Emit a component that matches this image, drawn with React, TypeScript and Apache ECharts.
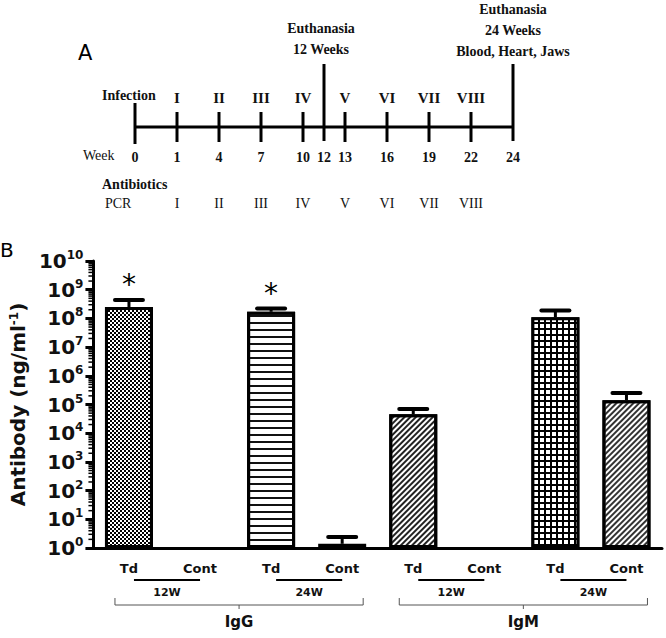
import React, { useEffect, useRef } from "react";
import * as echarts from "echarts";

// ---------- Panel B data ----------
const categoryLabels = ["Td", "Cont", "Td", "Cont", "Td", "Cont", "Td", "Cont"];
const antibodyMean: (number | null)[] = [2.5e8, null, 1.7e8, 1.4, 4.6e4, null, 1.1e8, 1.4e5];
const antibodyUpper: (number | null)[] = [4.4e8, null, 2.2e8, 2.4, 7.0e4, null, 1.9e8, 2.5e5];
const significance = ["*", "", "*", "", "", "", "", ""];
const timepointLabels = ["12W", "24W", "12W", "24W"];
const timepointSpans = [[0, 1], [2, 3], [4, 5], [6, 7]];
const isotypeLabels = ["IgG", "IgM"];
const isotypeSpans = [[0, 3], [4, 7]];
const yDecades = [0, 1, 2, 3, 4, 5, 6, 7, 8, 9];
const minorMultipliers = [2, 3, 4, 5, 6, 7, 8, 9];

// ---------- Panel A data ----------
const weeks = [0, 1, 4, 7, 10, 12, 13, 16, 19, 22, 24];
const timelinePosition = [0, 1, 2, 3, 4, 4.5, 5, 6, 7, 8, 9];
const infectionRounds = ["", "I", "II", "III", "IV", "", "V", "VI", "VII", "VIII", ""];
const pcrRounds = ["", "I", "II", "III", "IV", "", "V", "VI", "VII", "VIII", ""];
const euthanasiaWeeks = [12, 24];
const euthanasiaNotes = [
  ["Euthanasia", "12 Weeks"],
  ["Euthanasia", "24 Weeks", "Blood, Heart, Jaws"],
];

const SANS = "DejaVu Sans";
const SERIF = "Liberation Serif";

const barStyles: any[] = [
  { color: "#fff", decal: { symbol: "rect", symbolSize: 1, color: "#000", backgroundColor: "#fff", dashArrayX: [[2, 2], [0, 2, 2, 0]], dashArrayY: [2, 0] } },
  {},
  { color: "#fff", decal: { symbol: "rect", symbolSize: 1, color: "#111", backgroundColor: "#fff", dashArrayX: [1, 0], dashArrayY: [2, 4.5] } },
  { color: "#000" },
  { color: "#fff", decal: { symbol: "rect", symbolSize: 1, color: "#222", backgroundColor: "#fff", dashArrayX: [1, 0], dashArrayY: [1.6, 1.8], rotation: -Math.PI / 4 } },
  {},
  { color: "#000", decal: { symbol: "rect", symbolSize: 1, color: "#fff", backgroundColor: "#000", dashArrayX: [4, 2], dashArrayY: [4, 2] } },
  { color: "#fff", decal: { symbol: "rect", symbolSize: 1, color: "#333", backgroundColor: "#bbb", dashArrayX: [1, 0], dashArrayY: [1.5, 1.5], rotation: -Math.PI / 4 } },
];

export default function App() {
  const ref = useRef<HTMLDivElement>(null);
  useEffect(() => {
    if (!ref.current) return;
    const chart = echarts.init(ref.current, null, { renderer: "svg" });

    const minorTickValues: number[][] = [];
    yDecades.forEach((d) => minorMultipliers.forEach((m) => minorTickValues.push([0, m * Math.pow(10, d)])));

    const errorData: any[] = [];
    antibodyMean.forEach((m, i) => {
      if (m != null && antibodyUpper[i] != null) errorData.push([i, m, antibodyUpper[i]]);
    });

    const option: any = {
      animation: false,
      backgroundColor: "#fff",
      grid: [
        { left: 85, right: 4, top: 261, bottom: 90 },
        { left: 135, right: 153, top: 107, height: 40 },
      ],
      xAxis: [
        {
          type: "category",
          gridIndex: 0,
          data: categoryLabels,
          boundaryGap: true,
          axisLine: { lineStyle: { color: "#000", width: 3 } },
          axisTick: { alignWithLabel: true, length: 7, lineStyle: { color: "#000", width: 2 } },
          axisLabel: { interval: 0, margin: 14, fontFamily: SANS, fontWeight: "bold", fontSize: 13, color: "#111" },
          splitLine: { show: false },
        },
        { type: "value", gridIndex: 1, min: 0, max: 9, show: false },
      ],
      yAxis: [
        {
          type: "log",
          gridIndex: 0,
          logBase: 10,
          min: 1,
          max: 1e10,
          interval: 1,
          axisLine: { show: true, lineStyle: { color: "#000", width: 3 } },
          axisTick: { show: true, length: 8, lineStyle: { color: "#000", width: 3 } },
          splitLine: { show: false },
          axisLabel: {
            margin: 10,
            showMinLabel: true,
            showMaxLabel: true,
            formatter: (v: number) => `{b|10}{s|${Math.round(Math.log10(v))}}`,
            rich: {
              b: { fontFamily: SANS, fontWeight: "bold", fontSize: 20, color: "#111", lineHeight: 24 },
              s: { fontFamily: SANS, fontWeight: "bold", fontSize: 12, color: "#111", lineHeight: 14, verticalAlign: "top" },
            },
          },
          name: "Antibody (ng/ml{s|-1})",
          nameLocation: "middle",
          nameGap: 62,
          nameRotate: 90,
          nameTextStyle: {
            fontFamily: SANS,
            fontWeight: "bold",
            fontSize: 20,
            color: "#111",
            rich: {
              s: { fontFamily: SANS, fontWeight: "bold", fontSize: 12, color: "#111", verticalAlign: "top", lineHeight: 14 },
            },
          },
        },
        { type: "value", gridIndex: 1, min: -1, max: 1, show: false },
      ],
      series: [
        {
          type: "bar",
          xAxisIndex: 0,
          yAxisIndex: 0,
          barWidth: 48,
          data: antibodyMean.map((v, i) =>
            v == null ? "-" : { value: v, itemStyle: { ...barStyles[i], borderColor: "#000", borderWidth: 3 } }
          ),
        },
        {
          type: "custom",
          xAxisIndex: 0,
          yAxisIndex: 0,
          clip: false,
          data: errorData,
          renderItem: (params: any, api: any) => {
            const i = api.value(0);
            const top = api.coord([i, api.value(1)]);
            const up = api.coord([i, api.value(2)]);
            const children: any[] = [
              { type: "line", shape: { x1: top[0], y1: top[1], x2: up[0], y2: up[1] }, style: { stroke: "#000", lineWidth: 3 } },
              { type: "line", shape: { x1: up[0] - 14, y1: up[1], x2: up[0] + 14, y2: up[1] }, style: { stroke: "#000", lineWidth: 4, lineCap: "round" } },
            ];
            if (significance[i]) {
              children.push({
                type: "text",
                style: { text: significance[i], x: up[0], y: up[1] - 1, align: "center", verticalAlign: "bottom", fontSize: 28, fontFamily: SANS, fill: "#000" },
              });
            }
            return { type: "group", children };
          },
        },
        {
          type: "custom",
          xAxisIndex: 0,
          yAxisIndex: 0,
          clip: false,
          data: minorTickValues,
          renderItem: (params: any, api: any) => {
            const y = api.coord([0, api.value(1)])[1];
            const x = params.coordSys.x;
            return { type: "line", shape: { x1: x - 5, y1: y, x2: x, y2: y }, style: { stroke: "#000", lineWidth: 1.5 } };
          },
        },
        {
          type: "custom",
          xAxisIndex: 0,
          yAxisIndex: 0,
          clip: false,
          data: timepointSpans.map((s, k) => [s[0], 1, s[1], k]),
          renderItem: (params: any, api: any) => {
            const a = api.coord([api.value(0), 1]);
            const b = api.coord([api.value(2), 1]);
            const k = api.value(3);
            const x1 = a[0] + 5;
            const x2 = b[0];
            const y = a[1] + 32;
            return {
              type: "group",
              children: [
                { type: "line", shape: { x1, y1: y, x2, y2: y }, style: { stroke: "#000", lineWidth: 2 } },
                { type: "text", style: { text: timepointLabels[k], x: (x1 + x2) / 2, y: y + 12, align: "center", verticalAlign: "middle", fontFamily: SANS, fontWeight: "bold", fontSize: 11, fill: "#111" } },
              ],
            };
          },
        },
        {
          type: "custom",
          xAxisIndex: 0,
          yAxisIndex: 0,
          clip: false,
          data: isotypeSpans.map((s, k) => [s[0], 1, s[1], k]),
          renderItem: (params: any, api: any) => {
            const a = api.coord([api.value(0), 1]);
            const b = api.coord([api.value(2), 1]);
            const k = api.value(3);
            const x1 = a[0] - 14;
            const x2 = b[0] + 21;
            const y = a[1] + 57;
            const cx = (x1 + x2) / 2;
            return {
              type: "group",
              children: [
                { type: "polyline", shape: { points: [[x1, y - 7], [x1, y], [x2, y], [x2, y - 7]] }, style: { stroke: "#555", lineWidth: 1, fill: null } },
                { type: "line", shape: { x1: cx, y1: y, x2: cx, y2: y + 4 }, style: { stroke: "#555", lineWidth: 1 } },
                { type: "text", style: { text: isotypeLabels[k], x: cx, y: y + 17, align: "center", verticalAlign: "middle", fontFamily: SANS, fontWeight: "bold", fontSize: 15, fill: "#111" } },
              ],
            };
          },
        },
        // ---------- Panel A timeline ----------
        {
          type: "line",
          xAxisIndex: 1,
          yAxisIndex: 1,
          symbol: "none",
          lineStyle: { color: "#000", width: 3 },
          data: [[timelinePosition[0], 0], [timelinePosition[timelinePosition.length - 1], 0]],
        },
        {
          type: "custom",
          xAxisIndex: 1,
          yAxisIndex: 1,
          clip: false,
          data: weeks.map((w, i) => [timelinePosition[i], 0, w, i]),
          renderItem: (params: any, api: any) => {
            const p = api.coord([api.value(0), 0]);
            const w = api.value(2);
            const i = api.value(3);
            const x = p[0];
            const y0 = p[1];
            const evIdx = euthanasiaWeeks.indexOf(w);
            let t = y0 - 15, b = y0 + 15;
            if (i === 0) { t = y0 - 24; b = y0 + 17; }
            if (evIdx >= 0) { t = y0 - 63; b = y0 + 14; }
            const children: any[] = [
              { type: "line", shape: { x1: x, y1: t, x2: x, y2: b }, style: { stroke: "#000", lineWidth: 3 } },
              { type: "text", style: { text: String(w), x, y: y0 + 30, align: "center", verticalAlign: "middle", fontFamily: SERIF, fontWeight: "bold", fontSize: 14, fill: "#111" } },
            ];
            if (infectionRounds[i]) {
              children.push({ type: "text", style: { text: infectionRounds[i], x, y: y0 - 29, align: "center", verticalAlign: "middle", fontFamily: SERIF, fontWeight: "bold", fontSize: 15, fill: "#111" } });
            }
            if (pcrRounds[i]) {
              children.push({ type: "text", style: { text: pcrRounds[i], x, y: y0 + 76, align: "center", verticalAlign: "middle", fontFamily: SERIF, fontSize: 14, fill: "#111" } });
            }
            if (evIdx >= 0) {
              children.push({ type: "text", style: { text: euthanasiaNotes[evIdx].join("\n"), x: x - (evIdx === 0 ? 3 : 0), y: y0 - (evIdx === 0 ? 67 : 65), align: "center", verticalAlign: "bottom", lineHeight: 21, fontFamily: SERIF, fontWeight: "bold", fontSize: 14, fill: "#111" } });
            }
            return { type: "group", children };
          },
        },
      ],
      graphic: [
        { type: "text", x: 78, y: 53, style: { text: "A", fontFamily: SANS, fontSize: 21, fill: "#000", verticalAlign: "middle" } },
        { type: "text", x: 0, y: 250, style: { text: "B", fontFamily: SANS, fontSize: 20, fill: "#000", verticalAlign: "middle" } },
        { type: "text", x: 102, y: 95, style: { text: "Infection", fontFamily: SERIF, fontWeight: "bold", fontSize: 14, fill: "#111", verticalAlign: "middle" } },
        { type: "text", x: 83, y: 155, style: { text: "Week", fontFamily: SERIF, fontSize: 14, fill: "#111", verticalAlign: "middle" } },
        { type: "text", x: 102, y: 184, style: { text: "Antibiotics", fontFamily: SERIF, fontWeight: "bold", fontSize: 14, fill: "#111", verticalAlign: "middle" } },
        { type: "text", x: 105, y: 203, style: { text: "PCR", fontFamily: SERIF, fontSize: 14, fill: "#111", verticalAlign: "middle" } },
      ],
    };
    chart.setOption(option);
    return () => chart.dispose();
  }, []);
  return <div ref={ref} style={{ position: "absolute", left: 0, top: 0, width: 666, height: 638 }} />;
}
